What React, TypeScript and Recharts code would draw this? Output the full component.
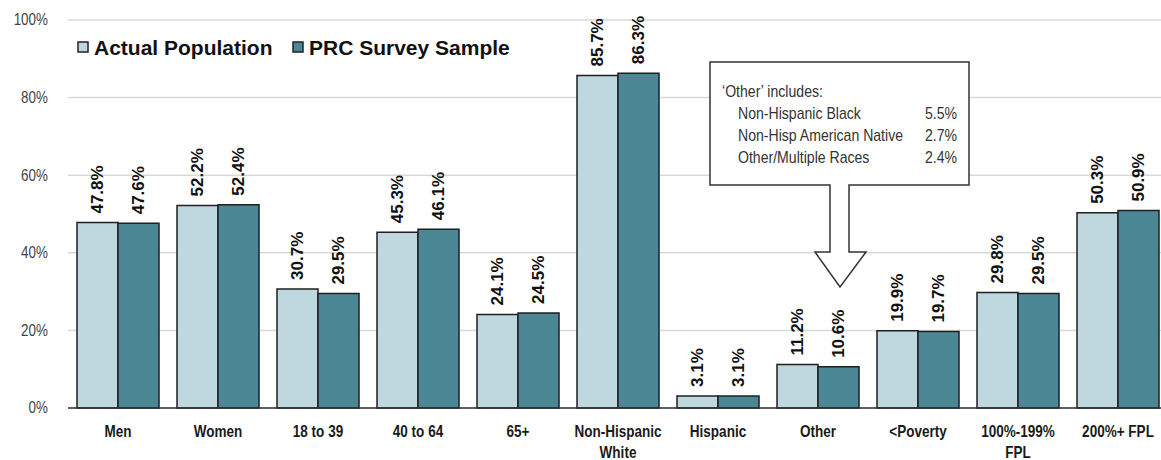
import React from "react";
import {
  BarChart,
  Bar,
  XAxis,
  YAxis,
  CartesianGrid,
  LabelList,
} from "recharts";

const categories = [
  "Men",
  "Women",
  "18 to 39",
  "40 to 64",
  "65+",
  "Non-Hispanic\nWhite",
  "Hispanic",
  "Other",
  "<Poverty",
  "100%-199%\nFPL",
  "200%+ FPL",
];
const actualPopulation = [47.8, 52.2, 30.7, 45.3, 24.1, 85.7, 3.1, 11.2, 19.9, 29.8, 50.3];
const surveySample = [47.6, 52.4, 29.5, 46.1, 24.5, 86.3, 3.1, 10.6, 19.7, 29.5, 50.9];
const yTicks = [0, 20, 40, 60, 80, 100];
const otherBreakdown = [
  { label: "Non-Hispanic Black", value: "5.5%" },
  { label: "Non-Hisp American Native", value: "2.7%" },
  { label: "Other/Multiple Races", value: "2.4%" },
];

const LIGHT = "#bfd7de";
const DARK = "#4b8795";
const SANS = '"Liberation Sans", Arial, sans-serif';

const data = categories.map((name, i) => ({
  name,
  actual: actualPopulation[i],
  prc: surveySample[i],
}));

// no narrow font installed, so squeeze horizontally
const Narrow = ({ x, y, anchor = "start", size = 16, bold = false, fill = "#333", sx = 0.84, children }: any) => (
  <text
    transform={`translate(${x} ${y}) scale(${sx} 1)`}
    textAnchor={anchor}
    dominantBaseline="central"
    fontFamily={SANS}
    fontWeight={bold ? "bold" : "normal"}
    fontSize={size}
    fill={fill}
  >
    {children}
  </text>
);

const XTick = ({ x, y, payload }: any) => {
  const lines = String(payload.value).split("\n");
  return (
    <g>
      {lines.map((ln, i) => (
        <Narrow key={i} x={x} y={y + 15 + i * 21} anchor="middle" size={16.5} bold fill="#1a1a1a" sx={0.82}>
          {ln}
        </Narrow>
      ))}
    </g>
  );
};

const YTick = ({ y, payload }: any) => (
  <Narrow x={48} y={y} anchor="end" size={16} fill="#444" sx={0.84}>
    {payload.value}%
  </Narrow>
);

const BarValue = ({ x, y, width, value }: any) => {
  const cx = x + width / 2;
  const cy = y - 9;
  return (
    <text
      x={cx}
      y={cy}
      transform={`rotate(-90 ${cx} ${cy})`}
      textAnchor="start"
      dominantBaseline="central"
      fontFamily={SANS}
      fontWeight="bold"
      fontSize={17}
      fill="#111"
    >
      {Number(value).toFixed(1)}%
    </text>
  );
};

const legendItems = [
  { label: "Actual Population", color: LIGHT, x: 78 },
  { label: "PRC Survey Sample", color: DARK, x: 293 },
];

export default function App() {
  return (
    <div style={{ position: "absolute", left: 0, top: 0, width: 1161, height: 460, overflow: "hidden", background: "#fff" }}>
      <BarChart
        width={1180}
        height={460}
        data={data}
        margin={{ top: 20, right: 12, left: 0, bottom: 0 }}
        barCategoryGap={9}
        barGap={0}
      >
        <CartesianGrid vertical={false} stroke="#d9d9d9" strokeWidth={1.5} />
        <XAxis
          dataKey="name"
          interval={0}
          height={52}
          tickLine={false}
          axisLine={{ stroke: "#333", strokeWidth: 1.5 }}
          tick={<XTick />}
        />
        <YAxis
          domain={[0, 100]}
          ticks={yTicks}
          width={68}
          axisLine={false}
          tickLine={false}
          tick={<YTick />}
        />
        <Bar dataKey="actual" name="Actual Population" fill={LIGHT} stroke="#1f1f1f" strokeWidth={1.5} isAnimationActive={false}>
          <LabelList dataKey="actual" content={<BarValue />} />
        </Bar>
        <Bar dataKey="prc" name="PRC Survey Sample" fill={DARK} stroke="#1f1f1f" strokeWidth={1.5} isAnimationActive={false}>
          <LabelList dataKey="prc" content={<BarValue />} />
        </Bar>
      </BarChart>
      <svg width={1161} height={460} style={{ position: "absolute", left: 0, top: 0, pointerEvents: "none" }}>
        {legendItems.map((it) => (
          <g key={it.label}>
            <rect x={it.x} y={42} width={10} height={10} fill={it.color} stroke="#222" strokeWidth={1.5} />
            <text x={it.x + 16} y={47} dominantBaseline="central" fontFamily={SANS} fontWeight="bold" fontSize={21} fill="#111">
              {it.label}
            </text>
          </g>
        ))}
        <path
          d="M710,62 H969 V185 H849 V252 H866 L840,287 L815,252 H830 V185 H710 Z"
          fill="#fff"
          stroke="#333"
          strokeWidth={1.5}
        />
        <Narrow x={722} y={91} size={16} sx={0.88}>
          {"\u2018Other\u2019 includes:"}
        </Narrow>
        {otherBreakdown.map((r, i) => (
          <g key={r.label}>
            <Narrow x={738} y={113 + i * 22} size={16} sx={0.88}>
              {r.label}
            </Narrow>
            <Narrow x={957} y={113 + i * 22} anchor="end" size={16} sx={0.88}>
              {r.value}
            </Narrow>
          </g>
        ))}
      </svg>
    </div>
  );
}
